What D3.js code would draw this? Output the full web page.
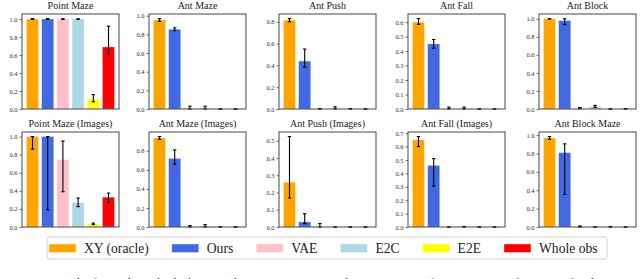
<!DOCTYPE html>
<html>
<head>
<meta charset="utf-8">
<script src="https://cdn.jsdelivr.net/npm/d3@7"></script>
<style>
  body { margin: 0; background: #fff; }
  svg text { font-family: "Liberation Serif", "Times New Roman", serif !important; font-weight: 400; }
</style>
</head>
<body>
<svg id="chart" width="640" height="279"></svg>
<script>
var methods = ["XY (oracle)", "Ours", "VAE", "E2C", "E2E", "Whole obs"];
var colors = ["#ffa500", "#4169e1", "#ffc0cb", "#add8e6", "#ffff00", "#ff0000"];

var titles = ["Point Maze", "Ant Maze", "Ant Push", "Ant Fall", "Ant Block",
              "Point Maze (Images)", "Ant Maze (Images)", "Ant Push (Images)", "Ant Fall (Images)", "Ant Block Maze"];

// mean success per panel, one value per method
var means = [
  [1.0, 1.0, 1.0, 1.0, 0.11, 0.69],
  [0.955, 0.855, 0.01, 0.01, 0.0, 0.0],
  [0.815, 0.44, 0.0, 0.005, 0.002, 0.0],
  [0.60, 0.45, 0.003, 0.003, 0.0, 0.0],
  [1.0, 0.98, 0.01, 0.028, 0.0, 0.002],
  [1.0, 1.0, 0.745, 0.27, 0.035, 0.33],
  [0.935, 0.72, 0.005, 0.01, 0.001, 0.0],
  [0.26, 0.03, 0.002, 0.0, 0.0, 0.0],
  [0.65, 0.46, 0.0, 0.002, 0.0, 0.0],
  [0.97, 0.81, 0.003, 0.0, 0.002, 0.0]
];
// lower / upper end of the error bars
var lows = [
  [0.995, 0.995, 0.995, 0.995, 0.08, 0.61],
  [0.94, 0.84, 0.0, 0.0, 0.0, 0.0],
  [0.80, 0.385, 0.0, 0.0, 0.0, 0.0],
  [0.585, 0.42, 0.0, 0.0, 0.0, 0.0],
  [0.997, 0.935, 0.003, 0.018, 0.0, 0.0],
  [0.86, 0.19, 0.39, 0.225, 0.027, 0.27],
  [0.92, 0.66, 0.0, 0.0, 0.0, 0.0],
  [0.168, 0.02, 0.0, 0.0, 0.0, 0.0],
  [0.60, 0.305, 0.0, 0.0, 0.0, 0.0],
  [0.955, 0.355, 0.0, 0.0, 0.0, 0.0]
];
var highs = [
  [1.005, 1.005, 1.002, 1.002, 0.16, 0.92],
  [0.97, 0.87, 0.03, 0.03, 0.0, 0.0],
  [0.83, 0.55, 0.003, 0.02, 0.004, 0.0],
  [0.625, 0.48, 0.013, 0.013, 0.0, 0.0],
  [1.003, 1.0, 0.017, 0.04, 0.0, 0.004],
  [1.0, 1.0, 0.95, 0.32, 0.043, 0.375],
  [0.95, 0.81, 0.015, 0.025, 0.002, 0.0],
  [0.525, 0.077, 0.02, 0.0, 0.0, 0.0],
  [0.675, 0.51, 0.0, 0.004, 0.0, 0.0],
  [0.985, 0.905, 0.012, 0.0, 0.003, 0.0]
];
var yTicks = [
  [0, 0.2, 0.4, 0.6, 0.8, 1.0],
  [0, 0.2, 0.4, 0.6, 0.8, 1.0],
  [0, 0.2, 0.4, 0.6, 0.8],
  [0, 0.1, 0.2, 0.3, 0.4, 0.5, 0.6],
  [0, 0.2, 0.4, 0.6, 0.8, 1.0],
  [0, 0.2, 0.4, 0.6, 0.8, 1.0],
  [0, 0.2, 0.4, 0.6, 0.8],
  [0, 0.1, 0.2, 0.3, 0.4, 0.5],
  [0, 0.1, 0.2, 0.3, 0.4, 0.5, 0.6, 0.7],
  [0, 0.2, 0.4, 0.6, 0.8, 1.0]
];
var caption = "Figure 3: Results for each method, showing the success rate in each environment after 10M steps of training, for the";

var svg = d3.select("#chart");

var panelLeft = [22, 149, 279, 408, 539];
var panelTop = [14, 132];
var pw = 97, ph = 95;

titles.forEach(function(title, p) {
  var col = p % 5, row = Math.floor(p / 5);
  var g = svg.append("g")
    .attr("transform", "translate(" + panelLeft[col] + "," + panelTop[row] + ")");

  var x = d3.scaleLinear().domain([-0.69, 5.69]).range([0, pw]);
  var y = d3.scaleLinear().domain([0, d3.max(highs[p]) * 1.05]).range([ph, 0]);

  // bars
  g.selectAll("rect.bar")
    .data(means[p])
    .enter().append("rect")
      .attr("class", "bar")
      .attr("x", function(d, i) { return x(i - 0.4); })
      .attr("width", x(0.8) - x(0))
      .attr("y", function(d) { return y(d); })
      .attr("height", function(d) { return ph - y(d); })
      .attr("fill", function(d, i) { return colors[i]; })
      .attr("stroke", "#fff")
      .attr("stroke-opacity", 0.45)
      .attr("stroke-width", 0.8);

  // error bars
  var cap = 1.7;
  means[p].forEach(function(d, i) {
    var cx = x(i), y0 = y(lows[p][i]), y1 = y(highs[p][i]);
    var e = g.append("g").attr("stroke", "#000").attr("stroke-width", 1.1);
    e.append("line").attr("x1", cx).attr("x2", cx).attr("y1", y0).attr("y2", y1);
    e.append("line").attr("x1", cx - cap).attr("x2", cx + cap).attr("y1", y0).attr("y2", y0);
    e.append("line").attr("x1", cx - cap).attr("x2", cx + cap).attr("y1", y1).attr("y2", y1);
  });

  // y axis
  var ax = g.append("g")
    .call(d3.axisLeft(y).tickValues(yTicks[p]).tickFormat(d3.format(".1f")).tickSize(2.5).tickPadding(2));
  ax.select(".domain").remove();
  ax.selectAll("line").attr("stroke", "#333").attr("stroke-width", 0.7);
  ax.selectAll("text").attr("font-size", "6.5px").attr("fill", "#333");

  // frame
  g.append("rect")
    .attr("width", pw).attr("height", ph)
    .attr("fill", "none").attr("stroke", "#333").attr("stroke-width", 0.9);

  g.append("text")
    .attr("x", pw / 2).attr("y", -5)
    .attr("text-anchor", "middle")
    .attr("font-size", "10px")
    .attr("fill", "#222")
    .text(title);
});

// legend, columns sized to their labels like matplotlib does
var lg = svg.append("g");
lg.append("rect")
  .attr("x", 47).attr("y", 237).attr("width", 560).attr("height", 22)
  .attr("rx", 2.5).attr("fill", "#fff").attr("stroke", "#ccc").attr("stroke-width", 0.9);

var cursor = 49;
methods.forEach(function(m, i) {
  lg.append("rect")
    .attr("x", cursor).attr("y", 244).attr("width", 27).attr("height", 8.5)
    .attr("fill", colors[i]).attr("stroke", "#fff").attr("stroke-opacity", 0.45).attr("stroke-width", 0.8);
  var t = lg.append("text")
    .attr("x", cursor + 35).attr("y", 252.5)
    .attr("font-size", "13.6px").attr("fill", "#222")
    .text(m);
  cursor += 35 + t.node().getComputedTextLength() + 23;
});

svg.append("text")
  .attr("x", 0).attr("y", 287)
  .attr("font-size", "13px").attr("fill", "#333")
  .text(caption);
</script>
</body>
</html>
